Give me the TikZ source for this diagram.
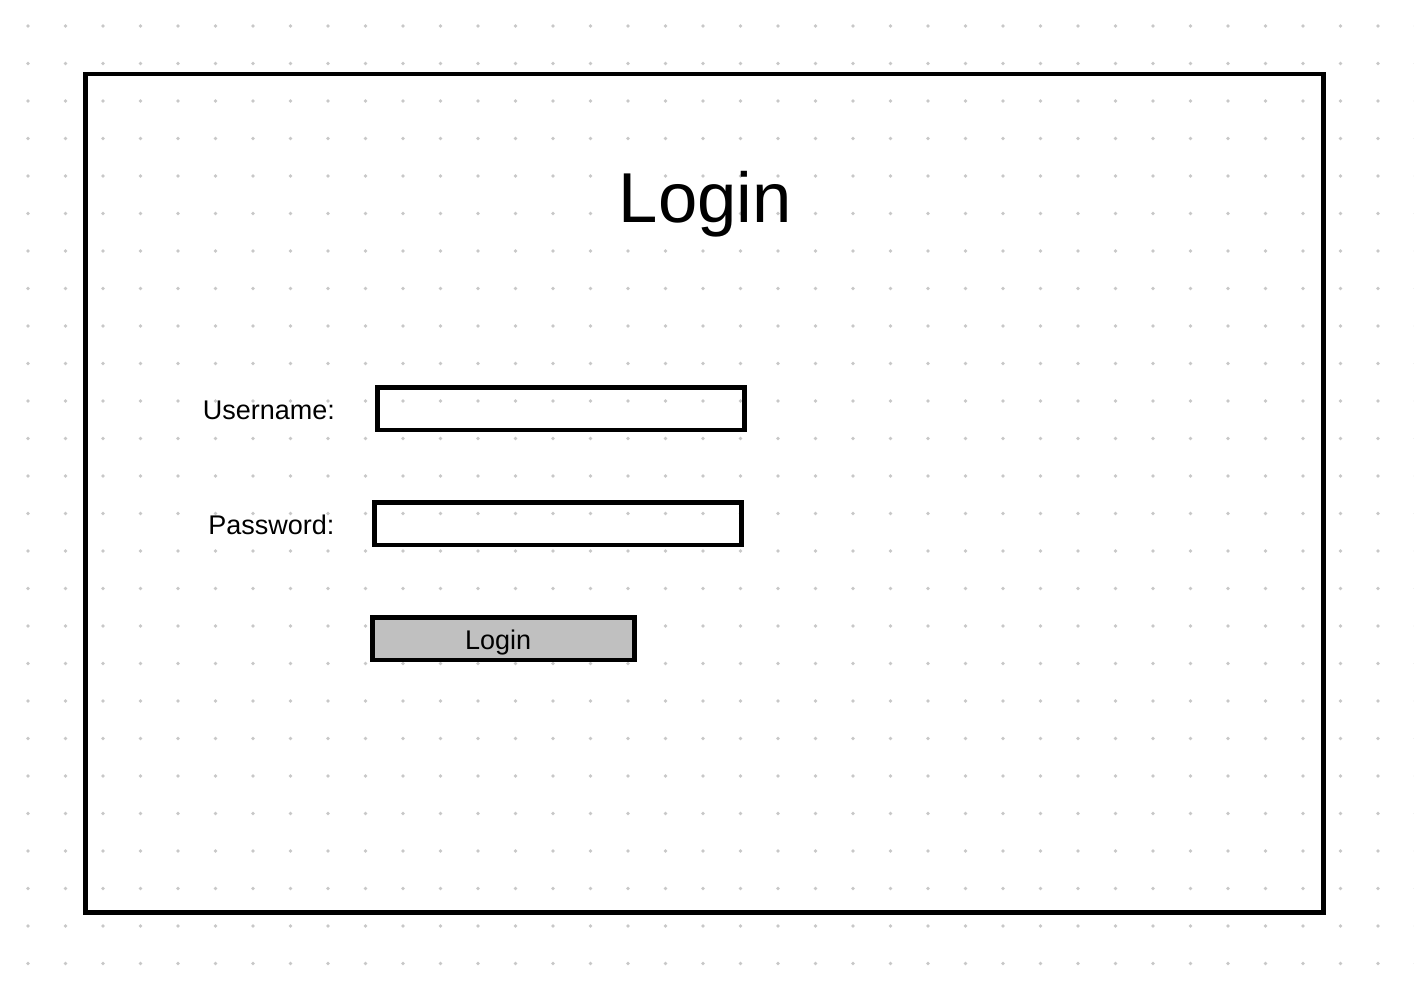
\documentclass[tikz,border=0pt]{standalone}
\usepackage{fontspec}
\setmainfont{Liberation Sans}

\tikzset{every picture/.style={line width=0.75pt}}
\tikzset{
  frame/.style={draw=black, line width=3.5pt, inner sep=0pt},
  field/.style={draw=black, line width=3.5pt, inner sep=0pt, minimum height=31.95pt},
  button/.style={field, fill={rgb, 255:red, 192; green, 192; blue, 192 }},
  label/.style={anchor=base east, inner sep=0pt, font=\fontsize{20.25}{24}\selectfont},
  caption/.style={anchor=base, inner sep=0pt},
}

\begin{document}
\begin{tikzpicture}[x=0.75pt,y=0.75pt,yscale=-1,xscale=1]
	\useasboundingbox (0,0) rectangle (1414,994);
	
	%Dot grid
	\foreach \gx in {0,...,37} {
		\foreach \gy in {0,...,26} {
			\fill [color={rgb, 255:red, 200; green, 200; blue, 200 }] (28+37.5*\gx,26+37.5*\gy) circle (1.8) ;
		}
	}
	
	%Shape: Rectangle [id:window]
	\node [frame, minimum width=928.5pt, minimum height=628.7pt] (window) at (704.5,493.15) {};
	
	%Shape: Rectangle [id:userbox]
	\node [field, minimum width=275.1pt] (userbox) at (560.9,408.75) {};
	%Shape: Rectangle [id:passbox]
	\node [field, minimum width=275.4pt] (passbox) at (557.9,523.85) {};
	%Shape: Rectangle [id:loginbtn]
	\node [button, minimum width=196.4pt] (loginbtn) at (503.4,638.85) {};
	
	% Text Node
	\node [caption, font=\fontsize{53}{60}\selectfont] (title) at (705.4,222.3) {Login};
	% Text Node
	\node [label] (userlabel) at (335.5,420) {Username:};
	% Text Node
	\node [label] (passlabel) at (335,534.3) {Password:};
	% Text Node
	\node [caption, font=\fontsize{20.25}{24}\selectfont] (btntext) at (498.2,649.3) {Login};
	
\end{tikzpicture}
\end{document}
